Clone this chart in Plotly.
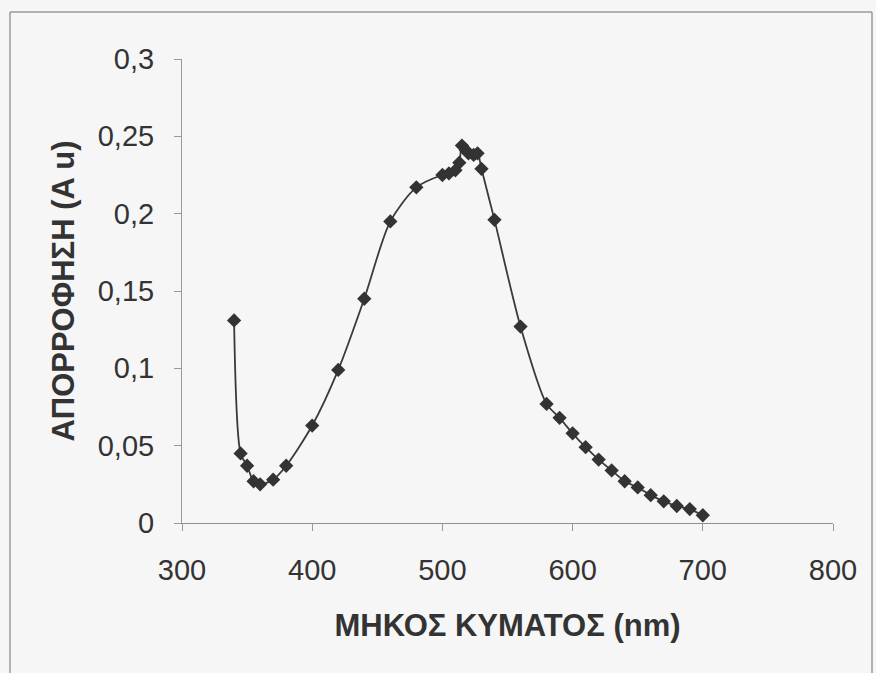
import plotly.graph_objects as go

wavelength_nm = [340, 345, 350, 355, 360, 370, 380, 400, 420, 440, 460, 480,
                 500, 505, 510, 513, 515, 518, 520, 524, 527, 530, 540, 560,
                 580, 590, 600, 610, 620, 630, 640, 650, 660, 670, 680, 690, 700]
absorbance = [0.131, 0.045, 0.037, 0.027, 0.025, 0.028, 0.037, 0.063, 0.099, 0.145, 0.195, 0.217,
              0.225, 0.226, 0.228, 0.233, 0.244, 0.241, 0.239, 0.238, 0.239, 0.229, 0.196, 0.127,
              0.077, 0.068, 0.058, 0.049, 0.041, 0.034, 0.027, 0.023, 0.018, 0.014, 0.011, 0.009, 0.005]

x_title = "ΜΗΚΟΣ ΚΥΜΑΤΟΣ (nm)"
y_title = "ΑΠΟΡΡΟΦΗΣΗ (A u)"

W, H = 876, 673
ML, MR, MT, MB = 182, 43, 59, 150
pw, ph = W - ML - MR, H - MT - MB

def px_to_paper_x(p):
    return (p - ML) / pw

def px_to_paper_y(p):
    return (H - MB - p) / ph

fig = go.Figure()
fig.add_trace(go.Scatter(
    x=wavelength_nm, y=absorbance, mode="lines+markers",
    line=dict(color="#3a3a3a", width=1.8, shape="spline", smoothing=0.8),
    marker=dict(symbol="diamond", size=11, color="#333333"),
    showlegend=False, cliponaxis=False,
))

frame_left, frame_right, frame_top, frame_bottom = 10, 872, 12, 700
frame_line = dict(color="#9a9a9a", width=1.5)
frame_shapes = [
    dict(type="line", xref="paper", yref="paper", layer="below",
         x0=px_to_paper_x(frame_left), x1=px_to_paper_x(frame_right),
         y0=px_to_paper_y(frame_top), y1=px_to_paper_y(frame_top), line=frame_line),
    dict(type="line", xref="paper", yref="paper", layer="below",
         x0=px_to_paper_x(frame_left), x1=px_to_paper_x(frame_left),
         y0=px_to_paper_y(frame_top), y1=px_to_paper_y(frame_bottom), line=frame_line),
    dict(type="line", xref="paper", yref="paper", layer="below",
         x0=px_to_paper_x(frame_right), x1=px_to_paper_x(frame_right),
         y0=px_to_paper_y(frame_top), y1=px_to_paper_y(frame_bottom), line=frame_line),
]

font_family = "Liberation Sans, Arial, sans-serif"
fig.update_layout(
    width=W, height=H,
    margin=dict(l=ML, r=MR, t=MT, b=MB),
    paper_bgcolor="#f6f6f6", plot_bgcolor="#f6f6f6",
    separators=",.",
    font=dict(family=font_family, size=29, color="#333333"),
    xaxis=dict(range=[300, 800], dtick=100, tick0=300, showgrid=False, zeroline=False,
               showline=True, linecolor="#8a8f99", linewidth=1,
               ticks="outside", ticklen=7, tickcolor="#999999",
               ticklabelstandoff=14,
               tickfont=dict(size=29, color="#333333"),
               title=dict(text="<b>" + x_title + "</b>", font=dict(size=31, color="#333333"), standoff=29)),
    yaxis=dict(range=[0, 0.3], dtick=0.05, showgrid=False, zeroline=False,
               showline=True, linecolor="#999999", linewidth=1,
               ticks="outside", ticklen=7, tickcolor="#999999",
               ticklabelstandoff=14,
               tickfont=dict(size=29, color="#333333"),
               title=dict(text="<b>" + y_title + "</b>", font=dict(size=31, color="#333333"), standoff=13)),
    shapes=frame_shapes,
)

fig.write_html("out.html")
